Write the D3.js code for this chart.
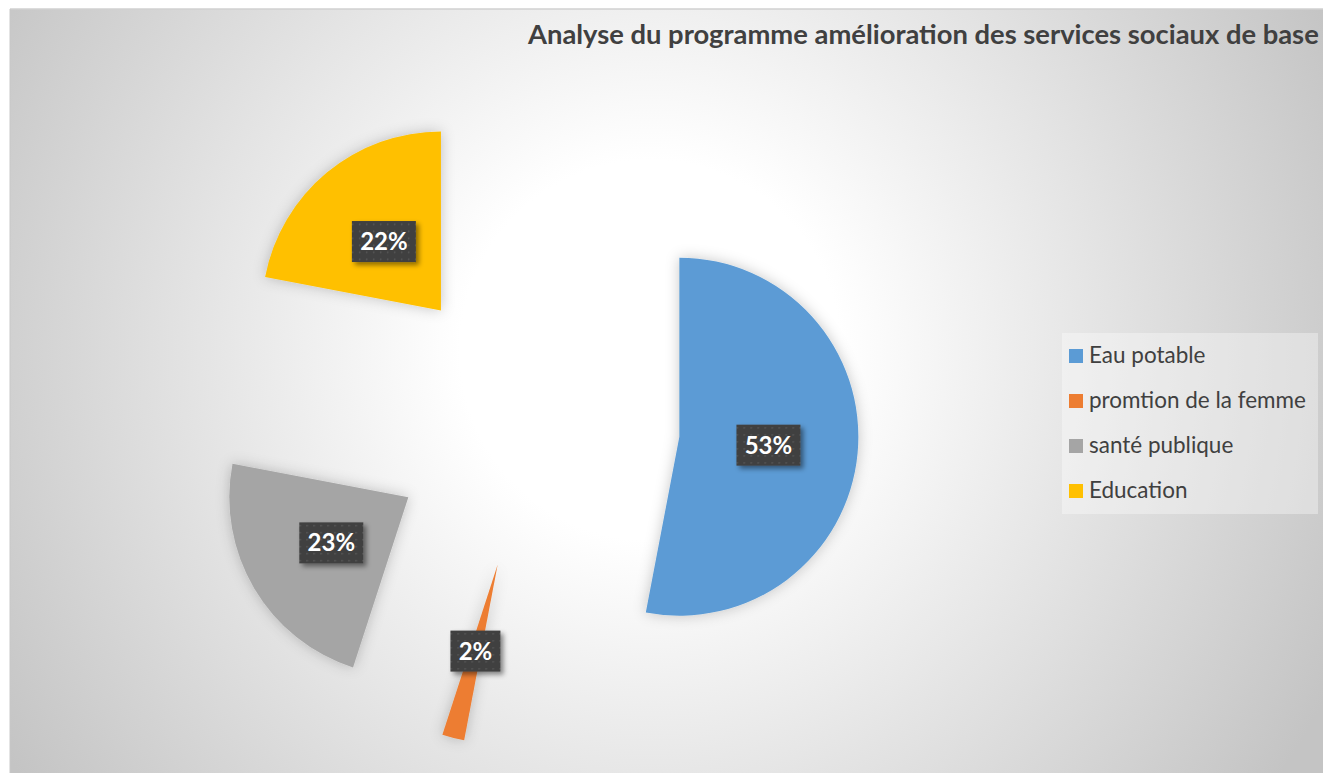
<!DOCTYPE html>
<html>
<head>
<meta charset="utf-8">
<script src="https://cdn.jsdelivr.net/npm/d3@7"></script>
<style>
  body { margin: 0; background: #fff; }
  .title { font-family: Lato, "Open Sans", sans-serif; font-weight: bold; fill: #404040; }
  .legend { font-family: Lato, "Open Sans", sans-serif; fill: #404040; }
  .pct { font-family: Lato, "Open Sans", sans-serif; font-weight: bold; fill: #fff; }
</style>
</head>
<body>
<div id="chart"></div>
<script>
const width = 1323;
const height = 773;

// data
const categories = ["Eau potable", "promtion de la femme", "santé publique", "Education"];
const values = [53, 2, 23, 22];
const colors = ["#5b9bd5", "#ed7d31", "#a5a5a5", "#ffc000"];
const title = "Analyse du programme amélioration des services sociaux de base";

const cx = 534, cy = 423;
const radius = 179;
const explode = 146;

const svg = d3.select("#chart").append("svg")
   .attr("width", width)
   .attr("height", height);

const defs = svg.append("defs");

// background gradient
const bg = defs.append("radialGradient")
   .attr("id", "bg")
   .attr("gradientUnits", "userSpaceOnUse")
   .attr("cx", 650).attr("cy", 350).attr("r", 760);
bg.append("stop").attr("offset", "0%").attr("stop-color", "#ffffff");
bg.append("stop").attr("offset", "25%").attr("stop-color", "#ffffff");
bg.append("stop").attr("offset", "100%").attr("stop-color", "#c4c4c4");

// soft shadow for slices
const sh = defs.append("filter").attr("id", "sliceShadow")
   .attr("x", "-30%").attr("y", "-30%").attr("width", "160%").attr("height", "160%");
sh.append("feDropShadow").attr("dx", 0).attr("dy", 0)
   .attr("stdDeviation", 7).attr("flood-color", "#000").attr("flood-opacity", 0.22);

// label shadow
const lsh = defs.append("filter").attr("id", "labelShadow")
   .attr("x", "-30%").attr("y", "-30%").attr("width", "160%").attr("height", "160%");
lsh.append("feDropShadow").attr("dx", 3).attr("dy", 3)
   .attr("stdDeviation", 2.5).attr("flood-color", "#000").attr("flood-opacity", 0.45);

// dotted pattern for label boxes
const pat = defs.append("pattern").attr("id", "dots")
   .attr("patternUnits", "userSpaceOnUse")
   .attr("width", 7).attr("height", 7);
pat.append("rect").attr("width", 7).attr("height", 7).attr("fill", "#404040");
pat.append("rect").attr("x", 3).attr("y", 3).attr("width", 1.5).attr("height", 1.5).attr("fill", "#595959");

// chart area
svg.append("rect")
   .attr("x", 10).attr("y", 9)
   .attr("width", width - 10).attr("height", height - 9)
   .attr("fill", "url(#bg)");
svg.append("line")
   .attr("x1", 10).attr("x2", width).attr("y1", 9).attr("y2", 9)
   .attr("stroke", "#d0d0d0").attr("stroke-width", 1.5);
svg.append("line")
   .attr("x1", 10).attr("x2", 10).attr("y1", 9).attr("y2", height)
   .attr("stroke", "#c8c8c8").attr("stroke-width", 1);

// title, fitted to its width in the reference
const titleText = svg.append("text")
   .attr("class", "title")
   .attr("x", 528)
   .attr("y", 44)
   .style("font-size", "24px")
   .text(title);
const tw = titleText.node().getComputedTextLength();
titleText.style("font-size", (24 * 791 / tw) + "px");

// pie
const pie = d3.pie().sort(null).value(d => d.value);
const arcs = pie(categories.map((c, i) => ({ name: c, value: values[i], color: colors[i] })));
const arc = d3.arc().innerRadius(0).outerRadius(radius);

const g = svg.append("g").attr("transform", `translate(${cx},${cy})`);

const offset = d => {
   const a = (d.startAngle + d.endAngle) / 2;
   return [Math.sin(a) * explode, -Math.cos(a) * explode];
};

g.selectAll("path.slice")
   .data(arcs)
   .enter()
   .append("path")
   .attr("class", "slice")
   .attr("transform", d => `translate(${offset(d)})`)
   .attr("d", arc)
   .attr("fill", d => d.data.color)
   .attr("filter", "url(#sliceShadow)");

// labels
const total = d3.sum(values);
const lbl = g.selectAll("g.lbl")
   .data(arcs)
   .enter()
   .append("g")
   .attr("class", "lbl")
   .attr("transform", d => {
      const o = offset(d);
      const c = arc.centroid(d);
      return `translate(${o[0] + c[0]},${o[1] + c[1]})`;
   });

lbl.append("rect")
   .attr("x", d => (d.data.value < 10 ? -25 : -32))
   .attr("y", -20.5)
   .attr("width", d => (d.data.value < 10 ? 50 : 64))
   .attr("height", 41)
   .attr("fill", "url(#dots)")
   .attr("filter", "url(#labelShadow)");

lbl.append("text")
   .attr("class", "pct")
   .attr("text-anchor", "middle")
   .attr("y", 8.5)
   .style("font-size", "24px")
   .text(d => Math.round(d.data.value / total * 100) + "%");

// legend
const legend = svg.append("g");
legend.append("rect")
   .attr("x", 1062).attr("y", 333)
   .attr("width", 256).attr("height", 181)
   .attr("fill", "#ffffff").attr("fill-opacity", 0.35);

const rowY = d3.scalePoint().domain(categories).range([356, 491]);

const items = legend.selectAll("g.item")
   .data(categories)
   .enter()
   .append("g")
   .attr("class", "item")
   .attr("transform", d => `translate(0,${rowY(d)})`);

items.append("rect")
   .attr("x", 1069).attr("y", -7)
   .attr("width", 14).attr("height", 14)
   .attr("fill", (d, i) => colors[i]);

items.append("text")
   .attr("class", "legend")
   .attr("x", 1089)
   .attr("y", 7)
   .style("font-size", "20px")
   .text(d => d);

// fit legend font to the reference width of the longest entry
const lt = items.selectAll("text").nodes();
const lw = lt[1].getComputedTextLength();
items.selectAll("text").style("font-size", (20 * 217 / lw) + "px");
</script>
</body>
</html>
